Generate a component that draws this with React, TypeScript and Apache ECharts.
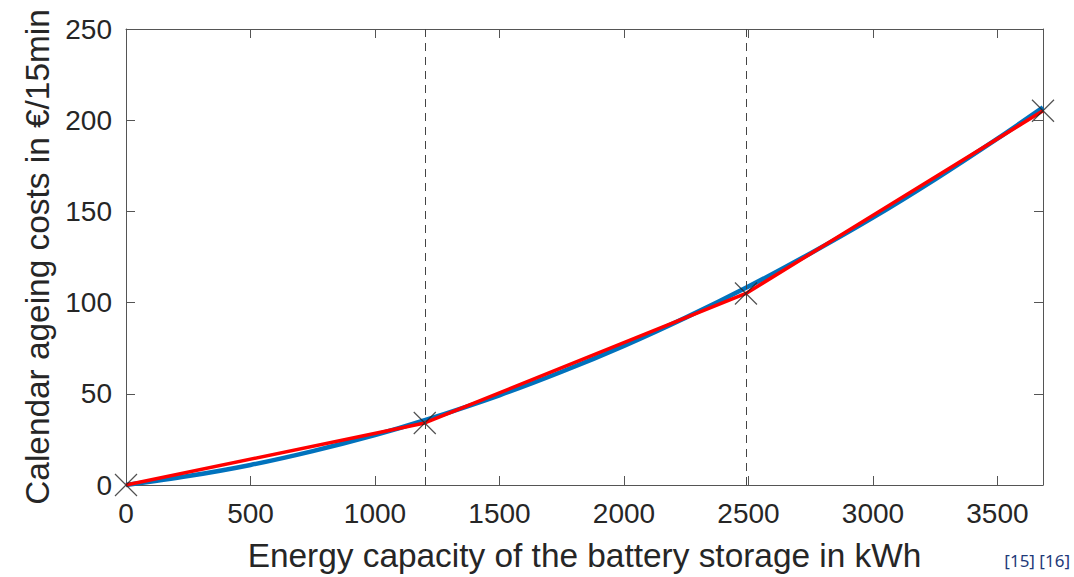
import React, { useEffect, useRef } from "react";
import * as echarts from "echarts";

// Smooth calendar ageing cost curve (blue)
const curveX = [0, 250, 500, 750, 1000, 1200, 1500, 1750, 2000, 2250, 2490, 2750, 3000, 3250, 3500, 3683];
const curveY = [0, 4.9, 11, 18.6, 27.4, 35.5, 49.2, 62.1, 76.3, 91.9, 108.1, 127.1, 146.6, 167.6, 189.9, 207];

// Piecewise linear approximation (red) with breakpoints
const breakX = [0, 1200, 2490, 3683];
const breakY = [0, 34, 105, 205.2];

// Segment boundaries (dashed vertical lines)
const segmentBounds = [1200, 2490];

const xMin = 0;
const xMax = 3683;
const xInterval = 500;
const yMin = 0;
const yMax = 250;
const yInterval = 50;

const xName = "Energy capacity of the battery storage in kWh";
const yName = "Calendar ageing costs in €/15min";
const sourceText = "[15] [16]";

const FONT = "Liberation Sans, Arial, Helvetica, sans-serif";
const AX = "#262626";
const LINE = "#555";

const mkLine = () => ({ show: true, onZero: false, lineStyle: { color: LINE, width: 1 } });
const mkTick = () => ({ show: true, inside: true, length: 9, lineStyle: { color: LINE, width: 1 } });
const plain = (v: number) => String(v);

export default function App() {
  const ref = useRef<HTMLDivElement>(null);
  useEffect(() => {
    if (!ref.current) return;
    const chart = echarts.init(ref.current, null, { renderer: "svg" });
    chart.setOption({
      animation: false,
      backgroundColor: "#fff",
      grid: { left: 126, right: 31, top: 29, bottom: 92, containLabel: false },
      xAxis: [
        {
          type: "value",
          min: xMin,
          max: xMax,
          interval: xInterval,
          position: "bottom",
          axisLine: mkLine(),
          axisTick: mkTick(),
          splitLine: { show: false },
          axisLabel: {
            showMaxLabel: false,
            formatter: plain,
            color: AX,
            fontFamily: FONT,
            fontSize: 28,
            margin: 14,
          },
          name: xName,
          nameLocation: "middle",
          nameGap: 54,
          nameTextStyle: { fontFamily: FONT, fontSize: 33.4, color: AX },
        },
        {
          type: "value",
          min: xMin,
          max: xMax,
          interval: xInterval,
          position: "top",
          axisLine: mkLine(),
          axisTick: mkTick(),
          splitLine: { show: false },
          axisLabel: { show: false },
        },
      ],
      yAxis: [
        {
          type: "value",
          min: yMin,
          max: yMax,
          interval: yInterval,
          position: "left",
          axisLine: mkLine(),
          axisTick: mkTick(),
          splitLine: { show: false },
          axisLabel: { formatter: plain, color: AX, fontFamily: FONT, fontSize: 28, margin: 14 },
          name: yName,
          nameLocation: "middle",
          nameGap: 70,
          nameTextStyle: { fontFamily: FONT, fontSize: 33.4, color: AX },
        },
        {
          type: "value",
          min: yMin,
          max: yMax,
          interval: yInterval,
          position: "right",
          axisLine: mkLine(),
          axisTick: mkTick(),
          splitLine: { show: false },
          axisLabel: { show: false },
        },
      ],
      series: [
        {
          type: "line",
          data: curveX.map((x, i) => [x, curveY[i]]),
          smooth: 0.3,
          showSymbol: false,
          symbol: "none",
          lineStyle: { color: "#0072BD", width: 4.5 },
          z: 2,
          clip: false,
          markLine: {
            silent: true,
            symbol: ["none", "none"],
            label: { show: false },
            lineStyle: { color: "#444", width: 1, type: [8, 6] },
            data: segmentBounds.map((v) => ({ xAxis: v })),
          },
        },
        {
          type: "line",
          data: breakX.map((x, i) => [x, breakY[i]]),
          showSymbol: false,
          symbol: "none",
          lineStyle: { color: "#FF0000", width: 3.5 },
          z: 3,
          clip: false,
        },
        {
          type: "scatter",
          data: breakX.map((x, i) => [x, breakY[i]]),
          symbol: "path://M0,0L10,10M10,0L0,10",
          symbolSize: 22,
          itemStyle: { color: "none", borderColor: "#262626", borderWidth: 1.2 },
          z: 4,
          clip: false,
        },
      ],
      graphic: [
        {
          type: "text",
          right: 4,
          top: 552,
          style: {
            text: sourceText,
            fill: "#1f3a7a",
            font: "17px 'Noto Sans', 'Open Sans', sans-serif",
          },
        },
      ],
    });
    return () => chart.dispose();
  }, []);
  return <div ref={ref} style={{ width: 1074, height: 577, position: "absolute", left: 0, top: 0 }} />;
}
